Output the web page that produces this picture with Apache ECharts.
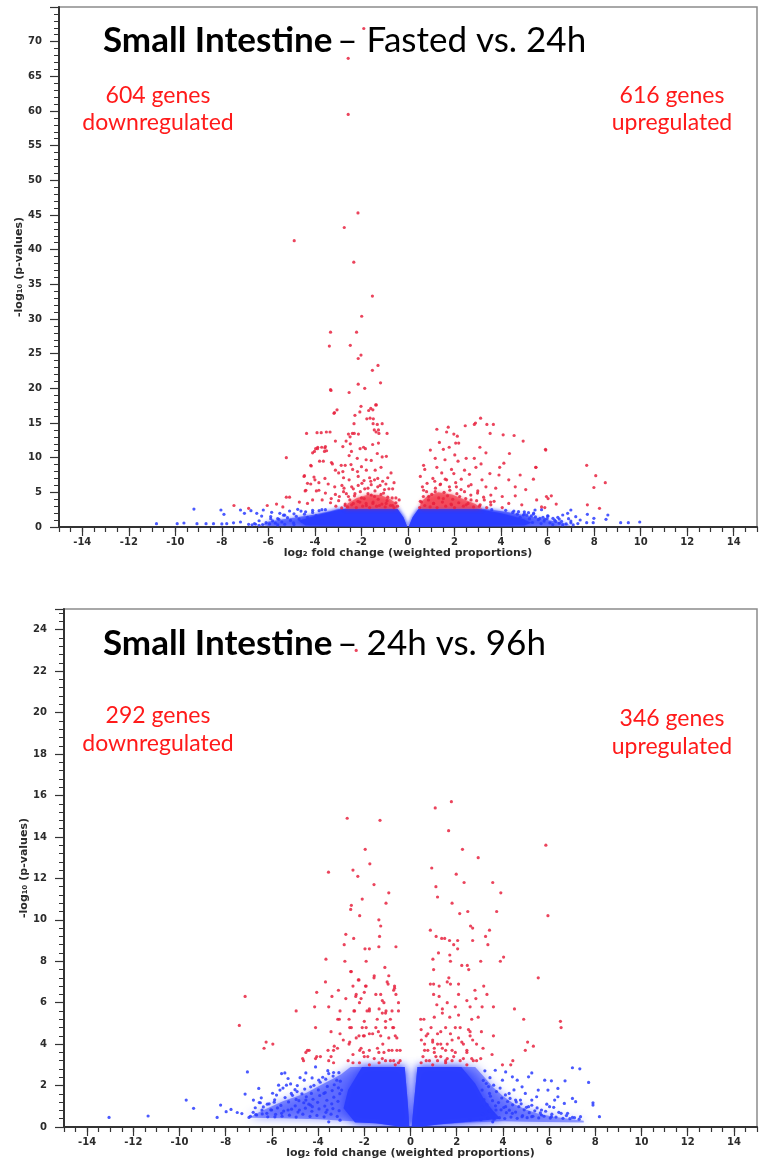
<!DOCTYPE html>
<html>
<head>
<meta charset="utf-8">
<script src="https://cdn.jsdelivr.net/npm/echarts@6/dist/echarts.min.js"></script>
<style>
  html, body { margin: 0; padding: 0; background: #ffffff; }
  #chart { width: 760px; height: 1161px; }
</style>
</head>
<body>
<div id="chart"></div>
<script>
// ---------- Small Intestine: Fasted vs. 24h ----------
// significant, down (log2FC < 0)
const fast24DownRed = [
  [-1.90,71.9],[-2.57,67.6],[-2.57,59.5],[-2.15,45.3],[-2.74,43.2],[-4.89,41.3],[-2.33,38.2],
  [-1.53,33.3],[-1.99,30.4],[-3.33,28.1],[-2.21,28.1],[-3.38,26.1],[-2.48,26.2],[-2.02,24.8],
  [-2.14,24.3],[-1.53,22.6],[-1.29,23.3],[-1.18,20.8],[-3.33,19.8],[-2.14,20.6],[-1.86,20.0],
  [-2.53,19.4],[-3.31,19.7],[-3.05,16.9],[-3.16,16.5],[-2.02,17.4],[-1.60,17.1],[-1.36,17.6],
  [-1.39,17.6],[-3.18,16.4],[-2.28,16.1],[-2.07,16.6],[-1.69,16.8],[-1.51,16.9],[-1.77,15.6],
  [-1.63,15.7],[-1.49,15.6],[-2.32,14.9],[-1.32,14.8],[-1.11,14.9],[-1.27,14.0],[-1.45,14.0],
  [-1.37,13.7],[-1.25,13.5],[-4.36,13.5],[-3.73,13.6],[-3.35,13.7],[-2.39,13.5],[-2.13,13.4],
  [-0.90,13.5],[-2.49,13.0],[-3.12,12.4],[-2.66,12.4],[-1.27,12.1],[-1.52,11.9],[-3.88,11.5],
  [-3.57,11.4],[-4.02,10.9],[-3.59,10.9],[-2.43,10.9],[-1.91,11.5],[-2.53,10.3],[-5.23,10.0],
  [-2.18,9.9],[-1.80,9.7],[-1.58,9.6],[-1.32,10.6],[-1.11,10.1],[-0.93,10.2],[-3.80,9.5],
  [-3.25,9.1],[-2.87,8.9],[-2.70,8.9],[-2.45,9.0],[-4.16,8.8],[-2.00,8.7],[-3.12,8.2],
  [-2.98,7.8],[-2.80,8.0],[-2.38,8.3],[-2.17,8.0],[-1.79,8.2],[-1.41,8.2],[-1.16,8.6],
  [-0.73,7.8],[-4.45,7.4],[-4.04,7.2],[-3.57,7.0],[-2.77,7.1],[-2.53,6.8],[-2.14,7.3],
  [-1.89,6.7],[-1.65,7.1],[-1.44,6.8],[-1.09,6.6],[-0.87,7.1],[-4.32,6.3],[-3.83,6.4],
  [-3.43,6.2],[-3.15,5.8],[-2.84,6.0],[-2.42,5.8],[-2.14,6.0],[-1.86,5.5],[-1.58,6.1],
  [-1.30,5.8],[-1.01,5.4],[-0.66,5.5],[-4.39,5.3],[-3.94,5.2],[-3.55,4.9],[-3.12,4.7],
  [-2.77,5.1],[-2.56,4.4],[-2.28,4.8],[-2.00,4.2],[-1.72,4.8],[-1.44,4.4],[-1.16,4.7],
  [-0.87,4.3],[-0.52,4.2],[-0.38,3.9],[-5.23,4.3],[-5.09,4.3],[-4.67,3.6],[-4.10,3.9],
  [-3.69,3.9],[-3.33,3.5],[-2.98,3.8],[-2.70,3.1],[-2.35,3.4],[-2.07,3.6],[-1.79,3.1],
  [-1.51,3.4],[-1.23,3.1],[-0.94,3.4],[-0.66,3.1],[-6.05,3.1],[-5.65,3.3],[-5.38,2.9],
  [-7.48,3.1],[-6.85,2.7],[-4.32,3.4],[-4.18,6.2],[-4.47,7.3],[-4.00,6.8],[-4.42,5.2],
  [-3.83,5.3],[-3.64,9.5],[-4.18,8.9],[-3.29,9.3],[-4.10,10.7],[-3.89,11.3],[-3.71,11.5],
  [-3.50,11.0],[-3.97,11.3],[-3.55,11.6],[-2.80,11.6],[-2.48,12.0],[-2.06,11.3],[-1.83,11.3],
  [-3.91,13.6],[-3.51,13.7],[-2.56,13.4],[-2.31,13.5],[-1.50,14.9],
  [-2.85,2.75],[-2.70,3.3],[-2.60,2.9],[-2.50,3.9],[-2.42,3.2],[-2.30,4.5],[-2.22,2.8],
  [-2.15,3.7],[-2.05,5.1],[-1.95,3.0],[-1.88,4.1],[-1.80,3.4],[-1.72,5.6],[-1.65,2.8],
  [-1.58,4.6],[-1.50,3.6],[-1.42,5.2],[-1.35,3.0],[-1.28,4.0],[-1.20,6.0],[-1.12,3.3],
  [-1.05,4.9],[-0.98,2.9],[-0.90,3.8],[-0.82,5.5],[-0.75,3.1],[-0.68,4.2],[-0.60,2.8],
  [-0.52,3.5],[-0.45,3.0],[-2.65,4.8],[-2.35,5.5],[-1.98,6.3],[-1.60,6.6],[-1.30,7.0],
  [-0.95,6.2],[-0.60,6.4],[-2.75,5.6],[-3.10,3.0],[-3.30,4.1],[-2.95,4.4]
];
// significant, up (log2FC > 0)
const fast24UpRed = [
  [3.12,15.7],[2.90,15.0],[2.85,14.8],[3.39,14.8],[3.67,14.8],[2.46,14.6],[1.73,14.4],
  [1.24,14.1],[1.66,13.7],[1.97,13.4],[2.12,13.1],[3.53,13.5],[4.09,13.3],[4.56,13.2],
  [4.95,12.4],[1.35,12.2],[2.05,12.1],[2.18,12.1],[0.96,11.1],[1.52,11.2],[1.77,11.5],
  [3.09,11.5],[3.35,10.7],[4.36,10.6],[5.92,11.1],[1.17,9.9],[2.50,9.9],[2.85,9.9],
  [2.01,10.4],[1.59,9.7],[2.15,9.5],[3.14,9.1],[4.12,9.2],[0.67,8.9],[1.24,8.6],
  [1.87,8.3],[2.43,8.2],[2.92,8.6],[3.94,8.6],[5.49,8.6],[7.68,8.9],[0.72,8.3],
  [1.45,7.8],[1.97,7.7],[2.64,7.6],[3.52,7.7],[3.91,7.5],[4.82,7.5],[0.53,7.3],
  [1.07,7.0],[1.66,6.8],[2.29,6.9],[3.18,6.8],[4.33,6.8],[5.39,6.9],[0.82,6.3],
  [1.38,6.1],[2.08,5.8],[2.71,6.1],[3.35,5.8],[3.77,5.6],[4.61,5.8],[5.06,5.4],
  [7.99,5.7],[0.67,5.3],[1.17,5.1],[1.80,5.3],[2.43,5.1],[2.99,4.9],[3.56,4.6],
  [4.05,4.4],[4.61,4.5],[5.53,3.9],[5.95,4.4],[6.16,4.5],[0.89,4.4],[1.52,4.1],
  [2.22,4.4],[2.71,3.9],[3.28,3.9],[3.70,3.7],[4.33,3.4],[4.89,3.2],[5.74,2.9],
  [6.37,3.3],[7.71,3.2],[0.53,3.7],[1.10,3.4],[1.87,3.2],[2.50,3.2],[3.07,3.0],
  [3.56,3.2],[4.05,2.8],[8.07,7.4],[8.48,6.4],[8.23,2.7],[6.02,4.1],[5.88,2.8],
  [5.50,8.6],[5.91,11.2],
  [0.50,2.8],[0.58,3.6],[0.66,4.4],[0.72,3.1],[0.80,5.1],[0.88,3.9],[0.95,2.9],
  [1.02,4.7],[1.10,3.4],[1.18,5.6],[1.25,2.8],[1.32,4.2],[1.40,6.2],[1.48,3.6],
  [1.55,5.0],[1.62,3.0],[1.70,4.5],[1.78,5.8],[1.85,3.3],[1.92,4.0],[2.00,2.8],
  [2.10,4.8],[2.18,3.5],[2.28,5.4],[2.38,3.0],[2.48,4.1],[2.58,3.4],[2.70,4.6],
  [2.82,2.9],[2.95,3.8],[3.10,3.2],[3.25,4.3],[3.38,2.8],[3.55,3.6],[1.15,6.6],
  [1.60,6.9],[2.05,6.4],[0.62,5.8],[2.60,5.9],[3.00,5.2]
];
// not significant
const fast24Blue = [
  [-10.81,0.48],[-9.92,0.48],[-9.63,0.58],[-9.07,0.48],[-8.68,0.48],[-8.36,0.48],[-9.20,2.59],
  [-8.04,2.45],[-7.91,1.83],[-7.79,0.48],[-7.20,2.45],[-7.03,1.97],[-6.75,2.35],[-6.50,1.97],
  [-6.29,1.58],[-7.20,0.72],[-6.85,0.38],[-6.22,2.45],[-5.86,2.12],[-5.51,1.97],[-5.09,2.31],
  [-4.74,2.55],[-6.60,0.50],[-6.40,0.90],[-5.90,1.50],[-5.30,1.70],[-4.90,1.90],[-4.40,2.20],
  [-4.10,2.40],[-3.70,2.50],[-5.60,1.20],[-7.50,0.60],[-8.00,0.45],
  [-6.25,0.35],[-6.10,0.62],[-5.95,0.45],[-5.82,0.88],[-5.70,0.55],[-5.55,1.12],[-5.42,0.72],
  [-5.30,0.40],[-5.18,1.35],[-5.05,0.95],[-4.92,0.60],[-4.80,1.55],[-4.68,1.15],[-4.55,0.80],
  [-4.45,1.85],[-4.32,1.40],[-4.20,0.50],[-4.10,2.10],[-3.95,1.65],[-3.82,2.35],[-3.70,0.90],
  [-3.55,2.50],[-6.40,0.25],[-5.90,1.20],[-5.35,1.70],[-4.60,2.30],[-5.60,0.30],[-4.90,0.35],
  [-6.55,0.40],[-6.70,0.30],
  [9.96,0.72],[9.47,0.62],[9.14,0.62],[8.59,1.73],[8.51,1.10],[7.99,1.25],[7.71,1.83],
  [7.96,0.62],[7.68,0.62],[7.40,1.01],[7.21,1.49],[7.00,2.45],[6.86,1.97],[6.65,1.73],
  [6.44,1.39],[6.23,1.25],[6.02,1.58],[5.88,1.10],[5.67,1.25],[5.46,2.45],[5.39,1.87],
  [5.18,2.06],[4.96,1.73],[4.75,2.21],[5.74,2.50],[3.60,2.50],[4.20,2.40],[4.50,2.10],
  [5.00,1.90],[5.30,1.60],[5.80,1.40],[6.30,1.00],[6.60,0.80],[7.00,0.60],[6.90,1.20],
  [4.55,2.30],[4.70,1.85],[4.82,1.40],[4.95,0.90],[5.10,1.70],[5.22,1.20],[5.35,0.65],
  [5.48,1.45],[5.60,1.05],[5.72,0.50],[5.85,0.85],[5.98,1.20],[6.10,0.60],[6.22,0.35],
  [6.35,0.80],[6.50,0.55],[6.65,0.30],[6.80,0.45],[7.10,0.30],[7.30,0.50],[4.40,1.10],
  [5.00,2.20],[5.40,2.00],[6.00,1.60],[6.50,1.15],[7.00,0.85]
];
// dense body of the non-significant cloud
const fast24BlueOuter = [
  [-6.3,0.3],[-6.0,0.8],[-5.0,1.3],[-4.0,1.8],[-3.3,2.3],[-3.0,2.6],[-0.45,2.6],[-0.2,1.4],
  [-0.03,0.05],[0.03,0.05],[0.2,1.4],[0.45,2.6],[3.3,2.6],[4.2,2.2],[5.2,1.6],[6.0,1.0],
  [6.8,0.5],[7.0,0.2],[6.0,0.12],[0.5,0.03],[-0.5,0.03],[-6.0,0.15]
];
const fast24BlueCore = [
  [-4.4,0.2],[-4.7,0.9],[-3.8,1.8],[-2.8,2.6],[-0.45,2.6],[-0.2,1.4],[-0.03,0.05],[0.03,0.05],
  [0.2,1.4],[0.45,2.6],[3.0,2.6],[4.0,2.0],[4.9,1.2],[5.3,0.6],[5.0,0.2],[0.5,0.03],[-0.5,0.03]
];
const fast24RedCoreDown = [
  [-2.7,2.65],[-2.6,3.4],[-2.2,4.2],[-1.7,4.7],[-1.2,4.6],[-0.8,4.1],[-0.5,3.4],[-0.45,2.65]
];
const fast24RedCoreUp = [
  [0.5,2.65],[0.55,3.6],[0.85,4.5],[1.3,5.0],[1.9,4.7],[2.4,4.0],[2.9,3.3],[3.2,2.65]
];

// ---------- Small Intestine: 24h vs. 96h ----------
const h24h96DownRed = [
  [-2.35,23.0],[-2.74,14.9],[-1.32,14.8],[-3.55,12.3],[-1.96,13.4],[-2.49,12.4],[-2.28,12.1],
  [-1.76,12.7],[-1.58,11.7],[-2.09,11.0],[-2.56,10.7],[-2.59,10.5],[-2.20,10.2],[-2.80,9.3],
  [-2.46,9.1],[-2.87,8.8],[-1.97,8.6],[-1.78,8.6],[-3.66,8.1],[-2.84,8.0],[-1.92,8.0],
  [-2.59,7.5],[-2.23,7.1],[-3.68,7.0],[-2.49,6.8],[-1.95,6.8],[-3.12,6.6],[-4.06,6.5],
  [-3.40,6.3],[-2.80,6.2],[-2.14,6.2],[-2.37,6.3],[-1.78,5.6],[-7.16,6.3],[-4.95,5.6],
  [-4.15,5.8],[-3.54,5.8],[-3.05,5.6],[-2.45,5.6],[-1.88,5.6],[-3.15,5.2],[-2.66,5.2],
  [-7.41,4.9],[-2.00,5.1],[-4.11,4.8],[-3.44,4.6],[-2.56,4.8],[-2.09,4.8],[-6.25,4.1],
  [-5.96,4.0],[-6.34,3.8],[-4.53,3.6],[-4.39,3.7],[-3.57,3.7],[-3.30,3.9],[-3.16,3.8],
  [-2.66,4.0],[-2.23,4.4],[-2.04,4.4],[-1.78,4.5],[-4.63,3.2],[-4.06,3.4],[-3.90,3.4],
  [-3.44,3.4],[-3.33,3.1],[-2.70,3.2],[-2.49,3.1],[-2.20,3.7],[-2.04,3.6],[-1.85,3.4],
  [-3.05,4.5],[-2.91,4.2],
  [-0.94,11.3],[-1.06,10.8],[-1.37,10.0],[-1.29,9.7],[-1.34,9.2],[-1.37,8.7],[-0.63,8.7],
  [-1.11,7.7],[-1.58,7.2],[-0.97,6.9],[-0.69,6.7],[-0.63,6.4],[-1.29,6.4],[-1.15,6.0],
  [-1.06,5.6],[-0.52,5.6],[-1.22,5.5],[-0.87,5.2],[-1.44,5.2],[-0.77,4.8],[-1.08,4.8],
  [-1.39,4.6],[-0.66,4.4],[-1.20,4.0],[-0.94,3.7],[-0.59,3.7],[-1.37,3.6],[-1.08,3.2],
  [-0.73,3.2],[-0.52,3.1],
  [-0.94,7.3],[-1.01,7.0],[-0.69,6.8],[-1.57,7.3],[-2.26,7.1],[-1.92,6.8],
  [-2.56,7.5],[-2.35,6.4],[-2.00,6.5],[-1.50,6.4],[-1.22,6.1],[-0.73,6.6],
  [-0.52,6.0],[-2.21,6.0],[-1.78,5.7],[-1.36,5.7],[-1.08,5.5],[-0.80,5.6],[-2.42,5.6],
  [-3.08,5.2],[-2.63,4.8],[-1.92,4.8],[-1.50,4.8],[-1.08,5.1],[-0.73,4.8],[-2.35,4.3],
  [-2.00,4.4],[-1.64,4.5],[-1.29,4.4],[-0.94,4.3],[-0.59,4.3],[-2.63,4.1],[-2.14,3.8],
  [-1.78,3.7],[-1.43,3.8],[-1.15,3.6],[-0.80,3.7],[-0.45,3.7],[-2.49,3.5],[-2.00,3.4],
  [-1.57,3.3],[-1.22,3.3],[-0.87,3.2],[-0.45,3.2],[-2.21,3.1],[-1.78,3.0],[-1.36,3.1],
  [-0.66,3.0],[-3.33,3.7],[-3.54,3.2],[-4.11,3.3],[-4.46,3.7],[-4.67,3.3]
];
const h24h96UpRed = [
  [1.07,15.4],[1.77,15.7],[1.65,14.3],[2.25,13.4],[2.93,13.0],[5.86,13.6],[0.92,12.5],
  [1.98,12.2],[2.32,11.8],[3.56,11.8],[1.10,11.6],[1.17,11.1],[3.91,11.3],[1.80,10.8],
  [2.48,10.4],[2.13,10.3],[3.73,10.4],[5.95,10.2],[0.86,9.5],[2.60,9.7],[2.69,9.6],
  [3.42,9.5],[1.11,9.2],[1.35,9.1],[1.48,9.1],[1.69,9.0],[1.87,8.8],[2.04,8.6],
  [2.04,9.0],[2.69,9.0],[3.25,9.2],[3.35,8.8],[1.21,8.4],[0.97,8.1],[1.70,8.3],
  [1.73,8.0],[3.04,8.0],[3.89,8.0],[4.03,8.2],[1.00,7.6],[2.22,7.8],[2.46,7.8],
  [2.52,7.6],[5.53,7.2],[1.66,7.2],[1.59,7.0],[0.86,6.9],[1.00,6.9],[1.24,6.8],
  [1.73,6.9],[2.08,6.9],[2.79,6.6],[3.17,6.8],[3.31,6.4],[1.00,6.4],[1.24,6.3],
  [2.08,6.4],[2.44,6.1],[2.83,6.2],[1.14,5.9],[1.38,5.7],[1.59,6.0],[1.94,5.8],
  [2.58,5.8],[3.10,5.8],[3.59,5.8],[4.50,5.7],[0.44,5.2],[0.58,5.2],[1.03,5.3],
  [1.38,5.5],[1.70,5.3],[2.08,5.4],[2.65,5.2],[2.93,5.3],[4.90,5.2],[6.49,5.1],
  [6.52,4.8],[0.89,4.8],[1.52,4.8],[2.15,4.8],[2.51,4.7],[0.75,4.5],[1.17,4.5],
  [1.73,4.5],[2.58,4.6],[3.07,4.6],[3.59,4.4],[0.47,4.2],[0.96,4.1],[1.31,4.0],
  [1.80,4.2],[2.22,4.1],[2.69,4.2],[2.86,4.0],[5.07,4.1],[5.32,3.9],[4.97,3.7],
  [0.61,3.7],[1.03,3.8],[1.52,3.7],[1.94,3.6],[2.44,3.7],[3.14,3.8],[3.53,3.5],
  [0.68,3.2],[1.10,3.4],[1.52,3.2],[1.80,3.2],[2.29,3.3],[2.72,3.2],[3.04,3.3],
  [3.98,3.0],[4.43,3.2],[4.34,3.0],
  [0.46,4.7],[0.68,4.4],[0.96,4.2],[1.17,4.0],[1.38,3.8],[1.59,4.0],[1.80,3.7],
  [0.75,3.7],[1.03,3.6],[1.31,3.4],[1.59,3.3],[1.87,3.4],[0.54,3.4],[0.82,3.2],
  [1.17,3.2],[1.52,3.1],[2.15,3.2],[2.44,3.6],[2.65,3.3],[2.86,3.2],[2.08,4.3],
  [2.29,4.0],[2.58,4.4],[1.94,4.8],[1.31,4.6],[0.61,4.0],[0.46,3.1],[0.96,3.0],
  [2.44,3.0]
];
const h24h96Blue = [
  [-13.05,0.46],[-11.36,0.53],[-9.71,1.30],[-9.39,0.90],[-8.37,0.46],[-8.22,1.06],[-7.98,0.74],
  [-7.77,0.85],[-7.30,0.65],[-7.06,2.66],[-7.16,1.59],[-6.99,0.46],[-6.57,1.86],[-6.50,1.17],
  [-6.43,0.82],[-6.22,0.66],[-6.01,0.82],[-5.80,1.54],[-5.65,1.78],[-5.58,2.58],[-5.44,2.61],
  [-5.30,2.34],[-5.37,2.02],[-5.16,1.62],[-4.95,1.33],[-4.81,0.82],[-4.60,2.26],[-4.53,2.61],
  [-4.32,1.94],[-4.11,2.90],[-3.97,2.26],[-3.75,1.62],[-3.54,2.58],[-3.33,2.63],[-3.19,2.26],
  [-2.98,1.78],[-5.30,0.82],[-5.58,0.66],[-5.87,0.49],[-4.53,1.30],[-4.25,0.98],[-3.61,0.82],
  [-3.54,0.25],[-3.05,0.33],[-5.00,1.80],[-4.70,1.60],[-4.40,1.10],[-4.90,2.00],[-3.80,2.40],
  [-6.80,1.30],[-6.20,1.10],[-5.90,1.20],[-7.50,0.70],[-6.70,0.60],
  [-6.93,0.52],[-6.81,0.71],[-6.66,0.58],[-6.72,0.93],[-6.55,1.18],[-6.42,0.63],[-6.37,0.97],
  [-6.46,1.41],[-6.18,0.49],[-6.05,0.83],[-6.12,1.12],[-5.97,1.63],[-5.84,0.61],[-5.76,0.92],
  [-5.88,1.31],[-5.71,2.02],[-5.56,0.52],[-5.49,0.77],[-5.61,1.04],[-5.43,1.42],[-5.52,1.88],
  [-5.24,0.57],[-5.15,0.86],[-5.28,1.21],[-5.11,1.53],[-5.19,2.08],[-4.95,0.48],[-4.87,0.72],
  [-4.99,1.02],[-4.83,1.27],[-4.91,1.71],[-4.78,2.38],[-4.66,0.62],[-4.55,0.91],[-4.62,1.17],
  [-4.51,1.46],[-4.58,1.83],[-4.35,0.51],[-4.27,0.76],[-4.33,1.06],[-4.22,1.34],[-4.29,1.62],
  [-4.18,2.01],[-4.26,2.37],[-4.05,0.56],[-3.96,0.87],[-4.02,1.19],[-3.93,1.52],[-3.99,1.79],
  [-3.91,2.16],[-3.74,0.49],[-3.66,0.71],[-3.71,1.01],[-3.62,1.29],[-3.69,1.66],[-3.60,1.96],
  [-3.67,2.31],[-3.58,2.72],[-3.44,0.62],[-3.36,0.89],[-3.41,1.12],[-3.32,1.44],[-3.39,1.76],
  [-3.30,2.04],[-3.35,2.46],[-3.17,0.51],[-3.09,0.79],[-3.14,1.24],[-3.06,1.61],[-3.12,1.89],
  [-3.04,2.21],[-3.10,2.62],
  [7.01,2.86],[7.33,2.81],[7.71,2.15],[6.10,2.23],[6.69,2.23],[6.38,1.86],[5.95,1.78],
  [5.53,1.78],[5.25,2.61],[5.11,2.42],[4.83,1.94],[4.41,2.42],[4.12,2.66],[3.67,2.74],
  [3.98,2.26],[4.62,2.26],[3.28,2.10],[3.42,1.62],[4.27,1.62],[4.76,1.30],[5.25,1.30],
  [5.11,0.98],[5.67,0.82],[6.02,0.98],[6.24,1.30],[6.38,1.46],[6.66,1.14],[6.80,0.66],
  [7.01,1.38],[7.15,1.22],[7.90,1.17],[7.90,1.06],[8.18,0.50],[6.10,0.50],[5.67,0.58],
  [5.25,0.50],[4.83,0.50],[4.41,0.66],[6.52,0.66],[7.01,0.46],[7.36,0.50],[5.81,2.26],
  [5.46,1.46],[4.97,1.62],[4.55,1.30],[4.12,0.98],[3.70,0.82],[2.58,0.34],[3.56,0.25],
  [3.05,0.35],[3.12,0.62],[3.08,0.95],[3.18,1.32],[3.10,1.78],[3.15,2.25],[3.22,2.71],
  [3.35,0.42],[3.42,0.77],[3.31,1.08],[3.46,1.49],[3.38,1.95],[3.44,2.38],[3.62,0.38],
  [3.58,0.66],[3.68,1.02],[3.55,1.27],[3.72,1.71],[3.60,2.02],[3.85,0.45],[3.92,0.83],
  [3.81,1.18],[3.95,1.40],[3.88,1.88],[4.08,0.41],[4.15,0.69],[4.04,0.94],[4.20,1.23],
  [4.11,1.55],[4.35,0.48],[4.28,0.81],[4.42,1.07],[4.31,1.38],[4.48,1.79],[4.62,0.42],
  [4.55,0.72],[4.69,0.98],[4.58,1.21],[4.85,0.55],[4.92,0.83],[4.79,1.12],[5.05,0.45],
  [5.14,0.69],[5.02,0.95],[5.30,0.52],[5.38,0.78],[5.25,1.05],[5.55,0.44],[5.62,0.68],
  [5.48,0.92],[5.78,0.52],[5.85,0.76],[6.05,0.43],[6.12,0.62],[6.30,0.48],[6.42,0.71],
  [6.60,0.42],[6.75,0.55],[6.90,0.40],[7.10,0.45],[7.30,0.38],[5.90,1.10],[6.20,0.95]
];
const h24h96BlueOuter = [
  [-7.0,0.45],[-6.5,0.75],[-6.0,1.0],[-5.5,1.25],[-5.0,1.45],[-4.5,1.65],[-4.0,1.95],
  [-3.5,2.25],[-3.0,2.55],[-2.6,2.9],[-0.25,2.9],[-0.12,1.2],[-0.05,0.0],[0.05,0.0],
  [0.15,1.2],[0.3,2.9],[2.8,2.9],[3.2,2.4],[3.6,1.9],[4.0,1.5],[4.5,1.1],[5.0,0.85],
  [5.5,0.65],[6.2,0.5],[7.0,0.38],[7.5,0.3],[7.5,0.22],[5.0,0.25],[4.0,0.28],[2.5,0.22],
  [1.2,0.12],[0.5,0.02],[-0.5,0.03],[-1.2,0.15],[-2.5,0.28],[-4.0,0.38],[-5.5,0.42]
];
const h24h96BlueCore = [
  [-2.4,0.22],[-2.9,0.9],[-2.7,1.8],[-2.1,2.9],[-0.25,2.9],[-0.12,1.2],[-0.05,0.0],[0.05,0.0],
  [0.15,1.2],[0.3,2.9],[2.2,2.9],[2.8,2.1],[3.2,1.3],[3.6,0.75],[3.9,0.4],[2.5,0.25],
  [1.2,0.12],[0.5,0.02],[-0.5,0.03],[-1.5,0.18]
];

// axis labelling
const xTickLabels = [-14,-12,-10,-8,-6,-4,-2,0,2,4,6,8,10,12,14];
const xName = 'log\u2082 fold change (weighted proportions)';
const yName = '-log\u2081\u2080 (p-values)';

const BLUE = '#2a3cff';
const RED = '#e8233f';
const AXIS = '#333333';
const tickFont = { fontFamily: 'DejaVu Sans', fontWeight: 'bold', fontSize: 10, color: '#2b2b2b' };
const nameFont = { fontFamily: 'DejaVu Sans', fontWeight: 'bold', fontSize: 11, color: '#2b2b2b' };

function xAxes(gi) {
  return [
    {
      gridIndex: gi, type: 'value', min: -15, max: 15, interval: 0.5,
      axisLine: { show: true, onZero: false, lineStyle: { color: AXIS, width: 2 } },
      axisTick: { show: true, length: 5, lineStyle: { color: AXIS, width: 1.2 } },
      axisLabel: Object.assign({ margin: 10,
        formatter: v => xTickLabels.indexOf(Math.round(v * 2) / 2) >= 0 ? String(v) : '' }, tickFont),
      splitLine: { show: false },
      name: xName, nameLocation: 'middle', nameGap: 21, nameTextStyle: nameFont
    },
    {
      gridIndex: gi, type: 'value', min: -15, max: 15, position: 'bottom',
      axisLine: { show: false },
      axisTick: { show: true, length: 9, customValues: xTickLabels, lineStyle: { color: AXIS, width: 1.2 } },
      axisLabel: { show: false }, splitLine: { show: false }
    }
  ];
}

function yAxis(gi, max, interval) {
  return {
    gridIndex: gi, type: 'value', min: 0, max: max, interval: interval,
    axisLine: { show: true, onZero: false, lineStyle: { color: AXIS, width: 2 } },
    axisTick: { show: true, length: 9, lineStyle: { color: AXIS, width: 1.2 } },
    minorTick: { show: true, splitNumber: 5, length: 5, lineStyle: { color: AXIS, width: 1 } },
    axisLabel: Object.assign({ margin: 17, showMaxLabel: false }, tickFont),
    splitLine: { show: false }, minorSplitLine: { show: false },
    name: yName, nameLocation: 'middle', nameGap: 34, nameRotate: 90, nameMoveOverlap: false,
    nameTextStyle: nameFont
  };
}

// filled outline of a dense part of the cloud, placed through the axis scales
function hull(name, gi, pts, color, opacity, z, blur) {
  return {
    type: 'custom', name: name, xAxisIndex: gi * 2, yAxisIndex: gi, z: z, clip: true, silent: true,
    data: [[0, 0]],
    renderItem: (params, api) => ({
      type: 'polygon',
      shape: { points: pts.map(p => api.coord(p)) },
      style: { fill: color, opacity: opacity, shadowBlur: blur, shadowColor: color }
    })
  };
}

function dots(name, gi, pts, color, opacity, z) {
  return {
    type: 'scatter', name: name, xAxisIndex: gi * 2, yAxisIndex: gi, z: z, silent: true,
    symbol: 'circle', symbolSize: 3.2, data: pts,
    itemStyle: { color: color, opacity: opacity }
  };
}

const titleRich = {
  b: { fontFamily: 'Lato', fontWeight: 'bold', fontSize: 35, color: '#000', lineHeight: 42 },
  n: { fontFamily: 'Lato', fontWeight: 'normal', fontSize: 35, color: '#000', lineHeight: 42 }
};

function redLabel(x, y, text) {
  return { type: 'text', x: x, y: y, z: 100,
    style: { text: text, fill: '#ff1a1a', font: '23px Lato', textAlign: 'center', textVerticalAlign: 'middle' } };
}

const chart = echarts.init(document.getElementById('chart'), null, { renderer: 'canvas' });
chart.setOption({
  animation: false,
  backgroundColor: '#ffffff',
  title: [
    { text: '{b|Small Intestine} {n|\u2013 Fasted vs. 24h}', left: 103, top: 20, padding: 0, textStyle: { rich: titleRich } },
    { text: '{b|Small Intestine} {n|\u2013 24h vs. 96h}', left: 103, top: 623, padding: 0, textStyle: { rich: titleRich } }
  ],
  grid: [
    { left: 59, top: 7, width: 711, height: 520, show: true, borderColor: '#8c8c8c', borderWidth: 1.5, containLabel: false },
    { left: 64, top: 609, width: 710, height: 518, show: true, borderColor: '#8c8c8c', borderWidth: 1.5, containLabel: false }
  ],
  xAxis: xAxes(0).concat(xAxes(1)),
  yAxis: [yAxis(0, 75, 5), yAxis(1, 25, 2)],
  series: [
    hull('fast24-blue-outer', 0, fast24BlueOuter, BLUE, 0.6, 1, 4),
    hull('fast24-blue-core', 0, fast24BlueCore, BLUE, 0.95, 2, 4),
    dots('fast24-blue', 0, fast24Blue, BLUE, 0.85, 3),
    hull('fast24-red-down', 0, fast24RedCoreDown, '#f01e32', 0.55, 4, 4),
    hull('fast24-red-up', 0, fast24RedCoreUp, '#f01e32', 0.55, 4, 4),
    dots('fast24-down', 0, fast24DownRed, RED, 0.85, 5),
    dots('fast24-up', 0, fast24UpRed, RED, 0.85, 5),

    hull('h24h96-blue-outer', 1, h24h96BlueOuter, BLUE, 0.5, 1, 10),
    hull('h24h96-blue-core', 1, h24h96BlueCore, BLUE, 0.95, 2, 10),
    dots('h24h96-blue', 1, h24h96Blue, BLUE, 0.85, 3),
    dots('h24h96-down', 1, h24h96DownRed, RED, 0.85, 5),
    dots('h24h96-up', 1, h24h96UpRed, RED, 0.85, 5)
  ],
  graphic: [
    redLabel(158, 96, '604 genes'),
    redLabel(158, 123, 'downregulated'),
    redLabel(672, 96, '616 genes'),
    redLabel(672, 123, 'upregulated'),
    redLabel(158, 716, '292 genes'),
    redLabel(158, 744, 'downregulated'),
    redLabel(672, 719, '346 genes'),
    redLabel(672, 747, 'upregulated')
  ]
});
</script>
</body>
</html>
